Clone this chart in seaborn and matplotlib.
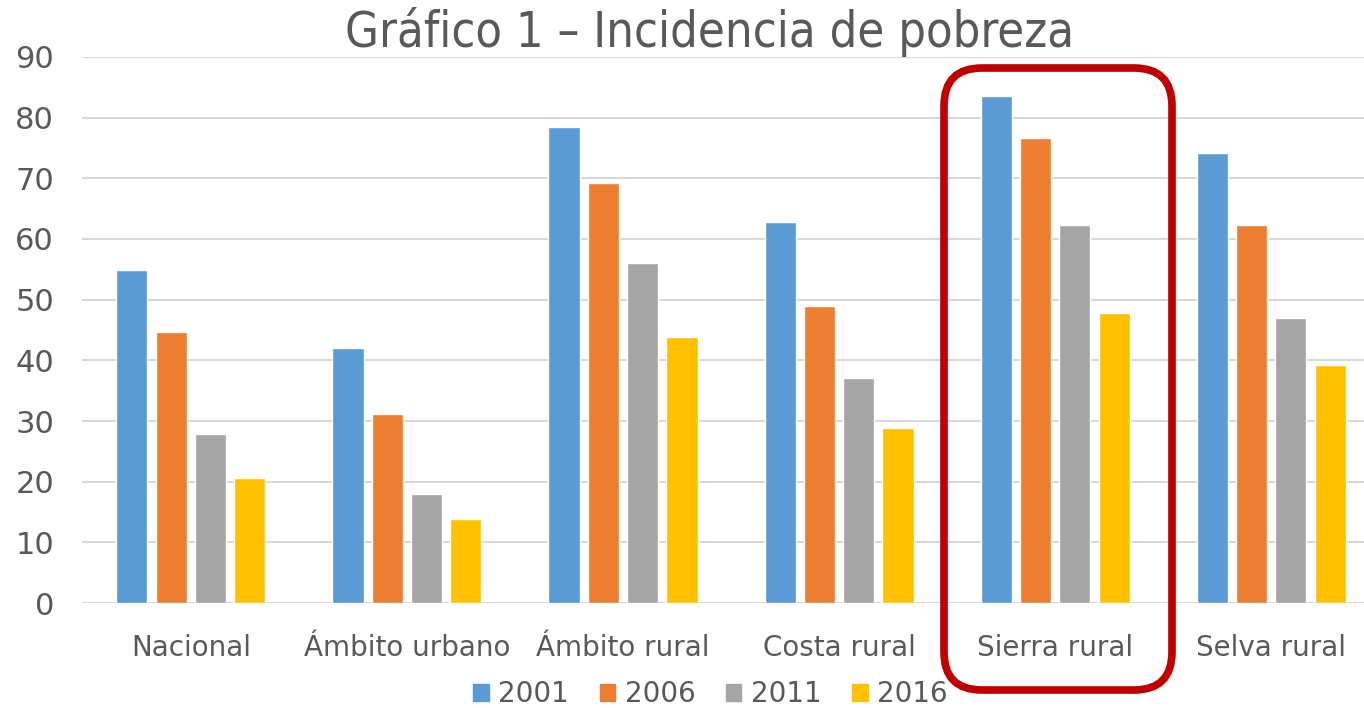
import pandas as pd
import numpy as np
import matplotlib.pyplot as plt
import seaborn as sns
from matplotlib.patches import FancyBboxPatch

# data
categories = ["Nacional", "Ámbito urbano", "Ámbito rural", "Costa rural", "Sierra rural", "Selva rural"]
years = ["2001", "2006", "2011", "2016"]
v2001 = [54.9, 42.0, 78.5, 62.8, 83.5, 74.1]
v2006 = [44.6, 31.2, 69.3, 49.0, 76.6, 62.3]
v2011 = [27.8, 18.0, 56.1, 37.1, 62.3, 47.0]
v2016 = [20.6, 13.9, 43.8, 28.9, 47.8, 39.3]
colors = ["#5B9BD5", "#ED7D31", "#A5A5A5", "#FFC000"]

df = pd.DataFrame({
    "cat": categories * 4,
    "year": [y for y in years for _ in categories],
    "value": v2001 + v2006 + v2011 + v2016,
})

sns.set_style("white")
plt.rcParams["font.family"] = ["DejaVu Sans"]
text_color = "#595959"

fig = plt.figure(figsize=(13.64, 7.08), dpi=100)
ax = fig.add_axes([0.060, 0.1483, 0.940, 0.7712])

sns.barplot(data=df, x="cat", y="value", hue="year", palette=colors, saturation=1,
            width=0.728, gap=0.21, ax=ax, legend=False, zorder=3)

ax.set_ylim(0, 90)
ax.set_yticks(np.arange(0, 91, 10))
ax.set_xlim(-0.505, 5.43)
ax.grid(axis="y", color="#D9D9D9", linewidth=1.5, zorder=0)
ax.set_axisbelow(True)
for s in ax.spines.values():
    s.set_visible(False)
ax.tick_params(axis="y", length=0, pad=20, labelsize=22, labelcolor=text_color)
ax.tick_params(axis="x", length=0, pad=22, labelsize=20, labelcolor=text_color)
ax.set_xlabel("")
ax.set_ylabel("")

fig.text(0.52, 1 - 32 / 708, "Gráfico 1 – Incidencia de pobreza", ha="center", va="center",
         fontsize=35, color=text_color, fontstretch="condensed")

handles = [plt.Rectangle((0, 0), 1, 1, color=c) for c in colors]
fig.legend(handles, years, loc="center", bbox_to_anchor=(0.521, 1 - 694 / 708), ncol=4,
           frameon=False, fontsize=20, labelcolor=text_color, handlelength=0.55,
           handleheight=0.55, handletextpad=0.35, columnspacing=1.1,
           borderpad=0, borderaxespad=0)

# red highlight box around "Sierra rural" (display pixels)
box = FancyBboxPatch((944, 708 - 690), 228, 622, boxstyle="round,pad=0,rounding_size=38",
                     transform=None, fill=False, edgecolor="#C00000", linewidth=5.5,
                     zorder=10)
fig.patches.append(box)

fig.savefig("out.png", dpi=100)
